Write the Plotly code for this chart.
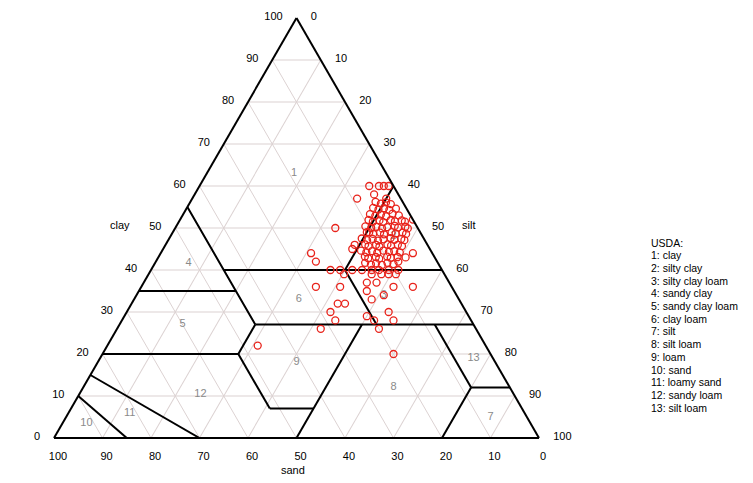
import plotly.graph_objects as go

# ---- sample points (percent) ----
clay = [60, 60, 60, 60, 58, 57, 57, 50, 52, 44, 42, 46, 45, 49, 44, 43, 42,
        40, 40, 39, 40, 40, 40, 40, 40, 40,
        39, 39, 39, 39, 37, 37, 36, 36, 36, 36, 33, 34, 32, 32, 30, 28, 26, 29, 28, 26, 30, 28, 20, 22, 35,
        56.2, 55.8, 56.1, 55.7,
        54.8, 54.4, 54.7, 54.3, 54.6,
        53.3, 52.9, 53.2, 52.8, 53.4, 53.0,
        51.9, 51.5, 51.8, 51.4, 51.9, 51.6, 51.8, 51.5,
        50.4, 50.0, 50.3, 49.9, 50.2, 50.5, 50.1, 50.3, 49.9,
        49.0, 48.6, 48.9, 48.5, 49.0, 48.7, 48.9, 48.6,
        47.5, 47.1, 47.4, 47.0, 47.3, 47.6, 47.2, 47.4, 47.1,
        46.1, 45.7, 46.0, 45.6, 46.1, 45.8, 46.0, 45.7,
        44.6, 44.2, 44.5, 44.1, 44.6, 44.3, 44.5, 44.2,
        43.2, 42.8, 43.1, 42.7, 43.2, 42.9, 43.1,
        41.7, 41.3, 41.6, 41.2, 41.7, 41.4]
silt = [35, 37, 38, 39, 37, 34, 40, 33, 48, 31, 33, 39, 39, 40, 52, 51, 50,
        37, 39, 40.3, 41.5, 43.5, 45.5, 47, 49, 51,
        46, 48, 49.5, 51, 46, 48, 52, 56, 36, 41, 49, 51, 42.5, 44, 42, 44, 42, 50, 52, 54, 54, 56, 60, 31, 47,
        38.2, 39.5, 40.4, 41.6,
        38.4, 39.7, 40.7, 42.0, 43.2,
        38.5, 39.8, 40.8, 42.1, 43.1, 44.6,
        38.9, 40.0, 41.2, 42.2, 43.5, 44.5, 45.8, 46.6,
        39.0, 40.4, 41.3, 42.7, 43.6, 45.0, 45.9, 47.3, 48.0,
        40.5, 41.5, 42.8, 43.8, 45.1, 46.1, 47.4, 48.3,
        39.7, 41.0, 42.0, 43.3, 44.3, 45.6, 46.6, 47.9, 48.7,
        41.1, 42.0, 43.4, 44.3, 45.7, 46.6, 47.9, 48.9,
        41.0, 42.3, 43.3, 44.6, 45.6, 46.9, 47.9, 49.2,
        42.5, 43.4, 44.8, 45.7, 47.1, 48.0, 49.3,
        43.3, 44.7, 45.6, 47.0, 47.9, 49.3]

# ---- USDA class boundaries: lists of (clay, sand, silt) ----
boundaries = [
    [(55, 45, 0), (40, 45, 15), (35, 45, 20), (27, 45, 28)],
    [(35, 65, 0), (35, 45, 20)],
    [(40, 45, 15), (40, 0, 60)],
    [(60, 0, 40), (40, 20, 40)],
    [(40, 20, 40), (27, 20, 53)],
    [(27, 45, 28), (27, 0, 73)],
    [(27, 45, 28), (20, 52, 28)],
    [(20, 80, 0), (20, 52, 28)],
    [(20, 52, 28), (7, 52, 41)],
    [(7, 52, 41), (7, 43, 50)],
    [(27, 23, 50), (0, 50, 50)],
    [(27, 8, 65), (12, 8, 80)],
    [(12, 8, 80), (12, 0, 88)],
    [(12, 8, 80), (0, 20, 80)],
    [(15, 85, 0), (0, 70, 30)],
    [(10, 90, 0), (0, 85, 15)],
]

# ---- region labels ----
region_ids = ["1", "2", "3", "4", "5", "6", "7", "8", "9", "10", "11", "12", "13"]
region_clay = [63, 48, 34, 41.5, 27, 33, 5, 12, 18, 3.4, 6, 10.4, 19]
region_silt = [18, 46, 51, 7, 13, 34, 87.5, 64, 41, 5, 12.6, 25, 77]

legend_lines = ["USDA:", "1: clay", "2: silty clay", "3: silty clay loam", "4: sandy clay",
                "5: sandy clay loam", "6: clay loam", "7: silt", "8: silt loam", "9: loam",
                "10: sand", "11: loamy sand", "12: sandy loam", "13: silt loam"]

W, H = 753, 483
OFF = 8  # page body margin


def px(X):
    return (X - OFF) / W


def py(Y):
    return (H - (Y - OFF)) / H


fig = go.Figure()

for seg in boundaries:
    fig.add_trace(go.Scatterternary(
        a=[p[0] for p in seg], b=[p[1] for p in seg], c=[p[2] for p in seg],
        mode="lines", line=dict(color="black", width=2), hoverinfo="skip", showlegend=False))

fig.add_trace(go.Scatterternary(
    a=region_clay, c=region_silt, mode="text", text=region_ids,
    textfont=dict(size=11, color="#8a8a8a"), hoverinfo="skip", showlegend=False))

fig.add_trace(go.Scatterternary(
    a=clay, c=silt, mode="markers",
    marker=dict(symbol="circle-open", size=7, color="#e8231b", line=dict(width=1.3)),
    showlegend=False))

NB = "\u00a0"
axis_common = dict(title=dict(text=""), dtick=10, tick0=0, min=0, color="black",
                   showgrid=True, gridcolor="#dcd2d2", gridwidth=1,
                   showline=True, linecolor="black", linewidth=2,
                   tickcolor="rgba(0,0,0,0)",
                   tickfont=dict(size=11, color="black"))

annotations = [
    dict(text="clay", x=px(108), y=py(225), xref="paper", yref="paper",
         showarrow=False, font=dict(size=11)),
    dict(text="silt", x=px(468), y=py(225), xref="paper", yref="paper",
         showarrow=False, font=dict(size=11)),
    dict(text="sand", x=px(293), y=py(478), xref="paper", yref="paper",
         showarrow=False, font=dict(size=11)),
]
for i, line in enumerate(legend_lines):
    annotations.append(dict(text=line, x=px(649), y=py(242.5 + 12.7 * i),
                            xref="paper", yref="paper", xanchor="left", yanchor="middle",
                            align="left", showarrow=False, font=dict(size=10.5)))

# triangle target (screen px): centre x 296.5, width 485, apex y 18, base y 438
fig.update_layout(
    template="none",
    autosize=False,
    width=W, height=H,
    margin=dict(l=0, r=0, t=0, b=0, pad=0, autoexpand=False),
    paper_bgcolor="white",
    plot_bgcolor="white",
    font=dict(family="Liberation Sans, Arial, sans-serif", color="black"),
    ternary=dict(
        sum=100,
        domain=dict(x=[px(54), px(539)], y=[py(438), py(18)]),
        bgcolor="white",
        aaxis=dict(axis_common, ticks="outside", ticklen=11),
        baxis=dict(axis_common, ticks="outside", ticklen=8),
        caxis=dict(axis_common, ticks="", ticklen=0, tickprefix=NB * 4, showtickprefix="all"),
    ),
    annotations=annotations,
)

fig.write_html("out.html")
